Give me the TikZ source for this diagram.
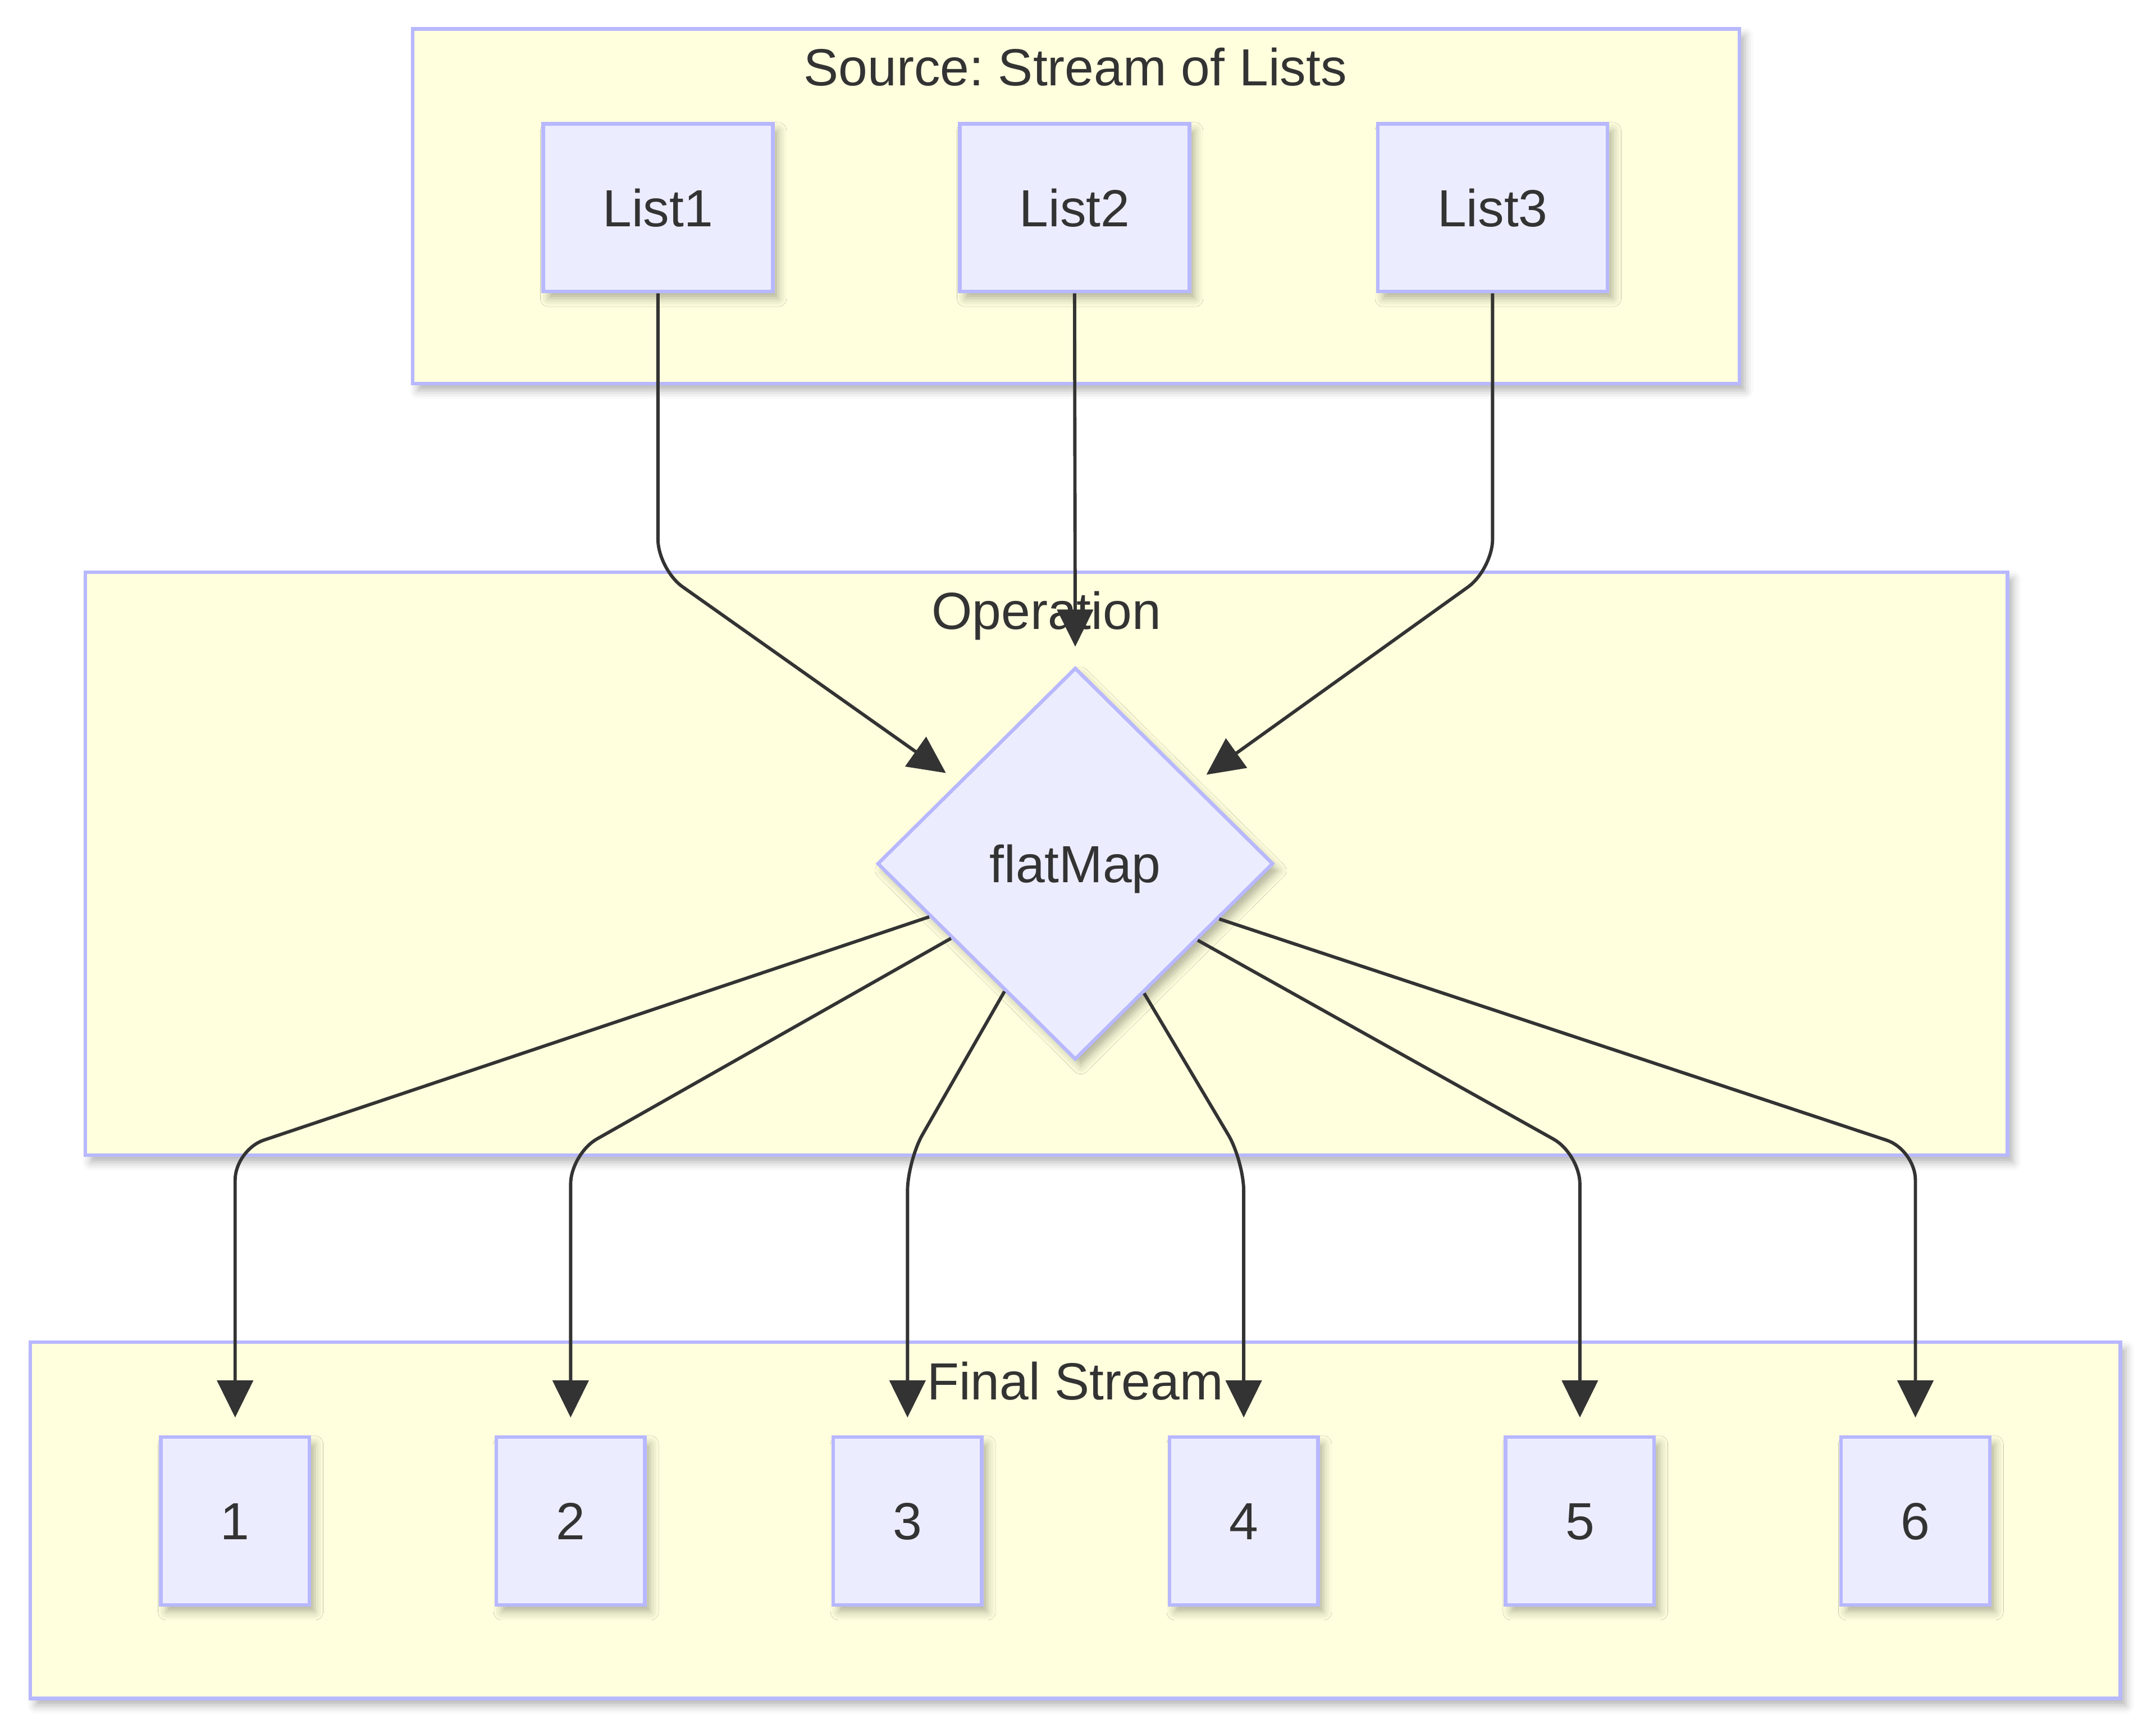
\documentclass[tikz,border=0pt]{standalone}
\usepackage{fontspec}
\setmainfont{Liberation Sans}
\frenchspacing
\usetikzlibrary{arrows.meta,shapes.geometric,shadows.blur,calc}
\definecolor{clfill}{HTML}{FFFFDE}
\definecolor{bord}{HTML}{B8B8FF}
\definecolor{nfill}{HTML}{ECECFF}
\definecolor{ink}{HTML}{333333}
\tikzset{
  shd/.style={blur shadow={shadow xshift=2pt,shadow yshift=-2.5pt,shadow blur radius=3pt,shadow opacity=30}},
  txt/.style={text=ink,font=\fontsize{19}{23}\selectfont,text height=13.6pt,text depth=0pt,inner sep=0pt},
  cluster/.style={draw=bord,fill=clfill,line width=1.3pt,inner sep=0pt,shd},
  ctitle/.style={txt},
  listbox/.style={txt,draw=bord,fill=nfill,line width=1.3pt,minimum width=83.5pt,minimum height=61pt,shd},
  numbox/.style={txt,draw=bord,fill=nfill,line width=1.3pt,minimum width=54pt,minimum height=61pt,shd},
  decision/.style={txt,shape=diamond,draw=bord,fill=nfill,line width=1.3pt,minimum width=144pt,minimum height=142.5pt,shd},
  edge/.style={draw=ink,line width=1.2pt,rounded corners=11pt,-{Triangle[length=13.5pt,width=13pt]}}
}
\begin{document}
\begin{tikzpicture}[x=0.5pt,y=-0.5pt]
\useasboundingbox (0,0) rectangle (1568,1260);
\node[cluster,minimum width=482.5pt,minimum height=129pt] (src) at (782.5,150) {};
\node[cluster,minimum width=699pt,minimum height=212pt] (op) at (761,628) {};
\node[cluster,minimum width=760pt,minimum height=129.5pt] (fin) at (782,1105.5) {};
\node[ctitle] (srct) at (782,48.75) {Source: Stream of Lists};
\node[ctitle] (opt) at (761,444) {Operation};
\node[ctitle] (fint) at (782,1004) {Final Stream};
\node[listbox] (L1) at (478.5,151) {List1};
\node[listbox] (L2) at (781.5,151) {List2};
\node[listbox] (L3) at (1085.5,151) {List3};
\node[decision] (fm) at (782,628) {flatMap};
\node[numbox] (n1) at (171,1106) {1};
\node[numbox] (n2) at (415,1106) {2};
\node[numbox] (n3) at (660,1106) {3};
\node[numbox] (n4) at (904.5,1106) {4};
\node[numbox] (n5) at (1149,1106) {5};
\node[numbox] (n6) at (1393,1106) {6};
\coordinate (y414) at (0,414);
\coordinate (y836) at (0,836);
\coordinate (y839) at (0,839);
\coordinate (y844) at (0,844);
\draw[edge,shorten >=5.5pt] (L1.south) -- (L1.south |- y414) -- (fm.145.3);
\draw[edge,shorten >=7pt] (L2.south) -- (fm.north);
\draw[edge,shorten >=5.5pt] (L3.south) -- (L3.south |- y414) -- (fm.34.7);
\draw[edge,shorten >=6.5pt] (fm.200.7) -- (n1.north |- y836) -- (n1.north);
\draw[edge,shorten >=6.5pt] (fm.211.8) -- (n2.north |- y839) -- (n2.north);
\draw[edge,shorten >=6.5pt] (fm.241.6) -- (n3.north |- y844) -- (n3.north);
\draw[edge,shorten >=6.5pt] (fm.298.4) -- (n4.north |- y844) -- (n4.north);
\draw[edge,shorten >=6.5pt] (fm.328.2) -- (n5.north |- y839) -- (n5.north);
\draw[edge,shorten >=6.5pt] (fm.339.3) -- (n6.north |- y836) -- (n6.north);
\end{tikzpicture}
\end{document}
